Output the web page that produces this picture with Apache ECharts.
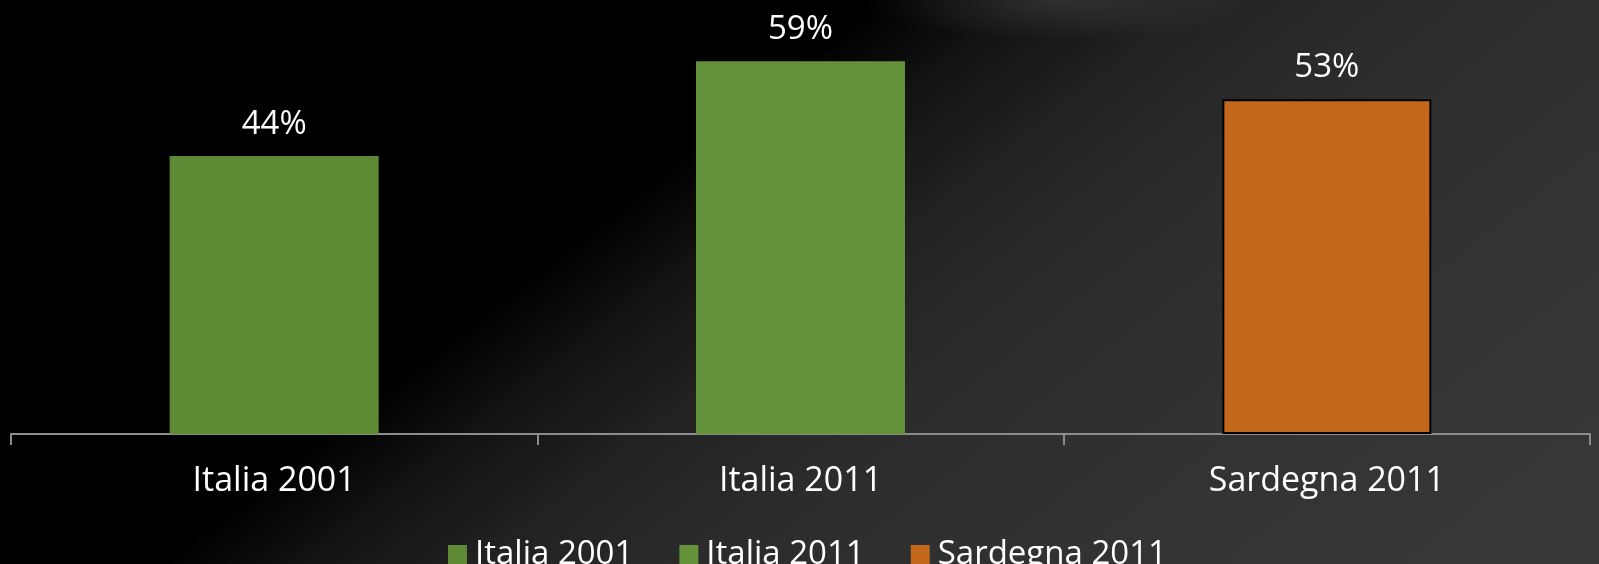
<!DOCTYPE html>
<html>
<head>
<meta charset="utf-8">
<script src="https://cdn.jsdelivr.net/npm/echarts@6/dist/echarts.min.js"></script>
<style>
  html, body { margin: 0; padding: 0; width: 1599px; height: 564px; overflow: hidden; }
  body {
    background:
      radial-gradient(ellipse 200px 40px at 1060px 0px, rgba(80,80,80,0.45), rgba(0,0,0,0) 100%),
      linear-gradient(142deg, #000 0%, #000 38%, #121212 44%, #222222 52%, #2c2c2c 62%, #333333 78%, #383838 100%);
  }
  #chart { width: 1599px; height: 564px; }
</style>
</head>
<body>
<div id="chart"></div>
<script>
const categories = ['Italia 2001', 'Italia 2011', 'Sardegna 2011'];
const seriesNames = ['Italia 2001', 'Italia 2011', 'Sardegna 2011'];
const italia2001 = [44, '-', '-'];
const italia2011 = ['-', 59, '-'];
const sardegna2011 = ['-', '-', 53];
const seriesColors = ['#5f8a35', '#64913a', '#c2671b'];

const chart = echarts.init(document.getElementById('chart'), null, { renderer: 'canvas' });
const font = '"Open Sans", "Noto Sans", sans-serif';
const values = [italia2001, italia2011, sardegna2011];

chart.setOption({
  backgroundColor: 'transparent',
  animation: false,
  textStyle: { fontFamily: font },
  grid: { left: 11, right: 9, top: 0, bottom: 130 },
  legend: {
    data: seriesNames,
    top: 533,
    left: 443,
    itemWidth: 19,
    itemHeight: 19,
    itemGap: 46,
    icon: 'rect',
    itemStyle: { borderWidth: 0 },
    textStyle: { color: '#ffffff', fontSize: 33, fontFamily: font, padding: [0, 0, 0, 3] }
  },
  xAxis: {
    type: 'category',
    data: categories,
    axisLine: { lineStyle: { color: '#8c8c8c', width: 2 } },
    axisTick: { show: true, length: 11, lineStyle: { color: '#8c8c8c', width: 2 } },
    axisLabel: { color: '#ffffff', fontSize: 34, margin: 30, fontFamily: font }
  },
  yAxis: {
    type: 'value',
    min: 0,
    max: 68.7,
    show: false,
    splitLine: { show: false }
  },
  series: seriesNames.map((name, i) => ({
    name: name,
    type: 'bar',
    data: values[i],
    barWidth: 209,
    barGap: '-100%',
    itemStyle: {
      color: seriesColors[i],
      borderColor: i === 2 ? '#000000' : 'transparent',
      borderWidth: i === 2 ? 2 : 0
    },
    label: {
      show: true,
      position: 'top',
      distance: 15,
      color: '#ffffff',
      fontSize: 33,
      fontFamily: font,
      formatter: p => p.value + '%'
    }
  }))
});
</script>
</body>
</html>
